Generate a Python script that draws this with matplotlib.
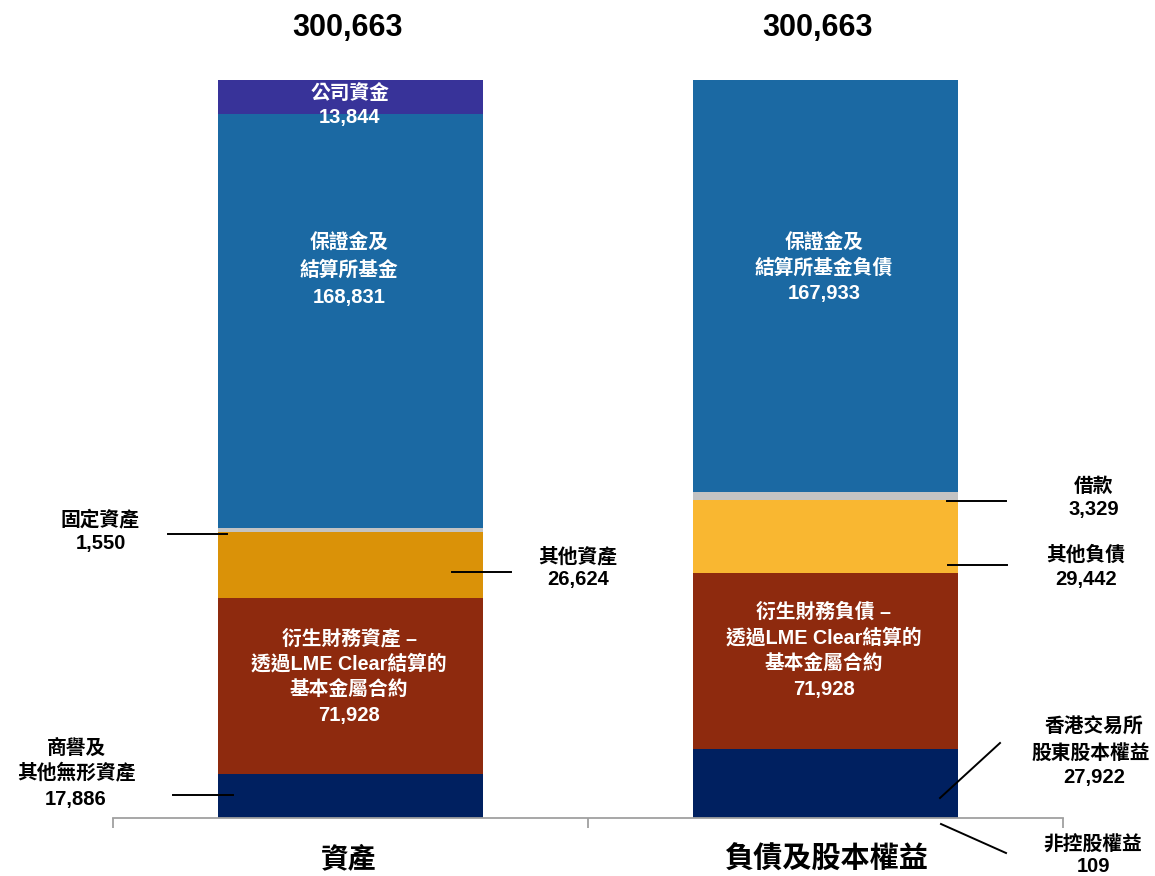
import matplotlib
matplotlib.use('Agg')
import matplotlib.pyplot as plt
from matplotlib.lines import Line2D

categories = ['資產', '負債及股本權益']
asset_labels = ['商譽及其他無形資產', '衍生財務資產', '其他資產', '固定資產', '保證金及結算所基金', '公司資金']
asset_values = [17886, 71928, 26624, 1550, 168831, 13844]
asset_colors = ['#002060', '#8E2A0E', '#DA9208', '#C3C3C3', '#1B69A3', '#383399']
liab_labels = ['非控股權益', '香港交易所股東股本權益', '衍生財務負債', '其他負債', '借款', '保證金及結算所基金負債']
liab_values = [109, 27922, 71928, 29442, 3329, 167933]
liab_colors = ['#002060', '#002060', '#8E2A0E', '#F9B731', '#C3C3C3', '#1B69A3']
totals = ['300,663', '300,663']

FAM = ['Liberation Sans', 'Noto Sans CJK TC', 'DejaVu Sans']
plt.rcParams['font.family'] = FAM

W, H = 1155, 876
fig = plt.figure(figsize=(W / 100, H / 100), dpi=100)
ax = fig.add_axes([113 / W, 1 - 818 / H, 950 / W, 738 / H])

bw = 0.556
for xi, vals, cols in [(0, asset_values, asset_colors), (1, liab_values, liab_colors)]:
    bottom = 0
    for v, c in zip(vals, cols):
        ax.bar(xi, v, bottom=bottom, width=bw, color=c, linewidth=0)
        bottom += v

ax.set_xlim(-0.5, 1.5)
ax.set_ylim(0, sum(asset_values))
for s in ['left', 'top', 'right']:
    ax.spines[s].set_visible(False)
ax.spines['bottom'].set_color('#A0A0A0')
ax.spines['bottom'].set_linewidth(1.3)
ax.set_yticks([])
ax.set_xticks([-0.5, 0.5, 1.5])
ax.set_xticklabels([])
ax.tick_params(axis='x', length=7, width=1.3, color='#A0A0A0', direction='out')

CJ = 14.2
NUM = 14.5


def T(x, y, s, size=CJ, color='black'):
    fig.text(x / W, 1 - y / H, s, ha='center', va='center', fontsize=size,
             fontweight='bold', color=color, family=FAM)


def L(x0, y0, x1, y1):
    fig.add_artist(Line2D([x0 / W, x1 / W], [1 - y0 / H, 1 - y1 / H],
                          transform=fig.transFigure, color='black', lw=1.4))


# totals and categories
T(348, 28, totals[0], size=22)
T(818, 28, totals[1], size=22)
T(349, 860, categories[0], size=20)
T(826, 860, categories[1], size=21)

# left bar inner labels
wc = 'white'
T(350, 93, '公司資金', CJ, wc)
T(350, 118, f'{asset_values[5]:,}', NUM, wc)
T(349, 243, '保證金及', CJ, wc)
T(349, 270, '結算所基金', CJ, wc)
T(349, 297, f'{asset_values[4]:,}', NUM, wc)
T(349, 638, '衍生財務資產 –', CJ, wc)
T(349, 664, '透過LME Clear結算的', CJ, wc)
T(349, 690, '基本金屬合約', CJ, wc)
T(349, 716, f'{asset_values[1]:,}', NUM, wc)

# right bar inner labels
T(824, 243, '保證金及', CJ, wc)
T(824, 268, '結算所基金負債', CJ, wc)
T(824, 293, f'{liab_values[5]:,}', NUM, wc)
T(824, 612, '衍生財務負債 –', CJ, wc)
T(824, 638, '透過LME Clear結算的', CJ, wc)
T(824, 664, '基本金屬合約', CJ, wc)
T(824, 690, f'{liab_values[2]:,}', NUM, wc)

# left outside labels
T(100, 519, '固定資產', CJ)
T(101, 544, f'{asset_values[3]:,}', NUM)
L(168, 534, 227, 534)
T(578, 556, '其他資產', CJ)
T(578, 580, f'{asset_values[2]:,}', NUM)
L(452, 572, 511, 572)
T(76, 748, '商譽及', CJ)
T(76, 773, '其他無形資產', CJ)
T(76, 799, f'{asset_values[0]:,}', NUM)
L(173, 795, 233, 795)

# right outside labels
T(1094, 486, '借款', CJ)
T(1094, 510, f'{liab_values[4]:,}', NUM)
L(947, 501, 1006, 501)
T(1086, 555, '其他負債', CJ)
T(1086, 580, f'{liab_values[3]:,}', NUM)
L(948, 565, 1007, 565)
T(1094, 727, '香港交易所', CJ)
T(1091, 753, '股東股本權益', CJ)
T(1094, 777, f'{liab_values[1]:,}', NUM)
L(940, 798, 1000, 743)
T(1093, 845, '非控股權益', CJ)
T(1093, 866, f'{liab_values[0]:,}', NUM)
L(941, 824, 1006, 853)

fig.savefig('out.png', dpi=100)
